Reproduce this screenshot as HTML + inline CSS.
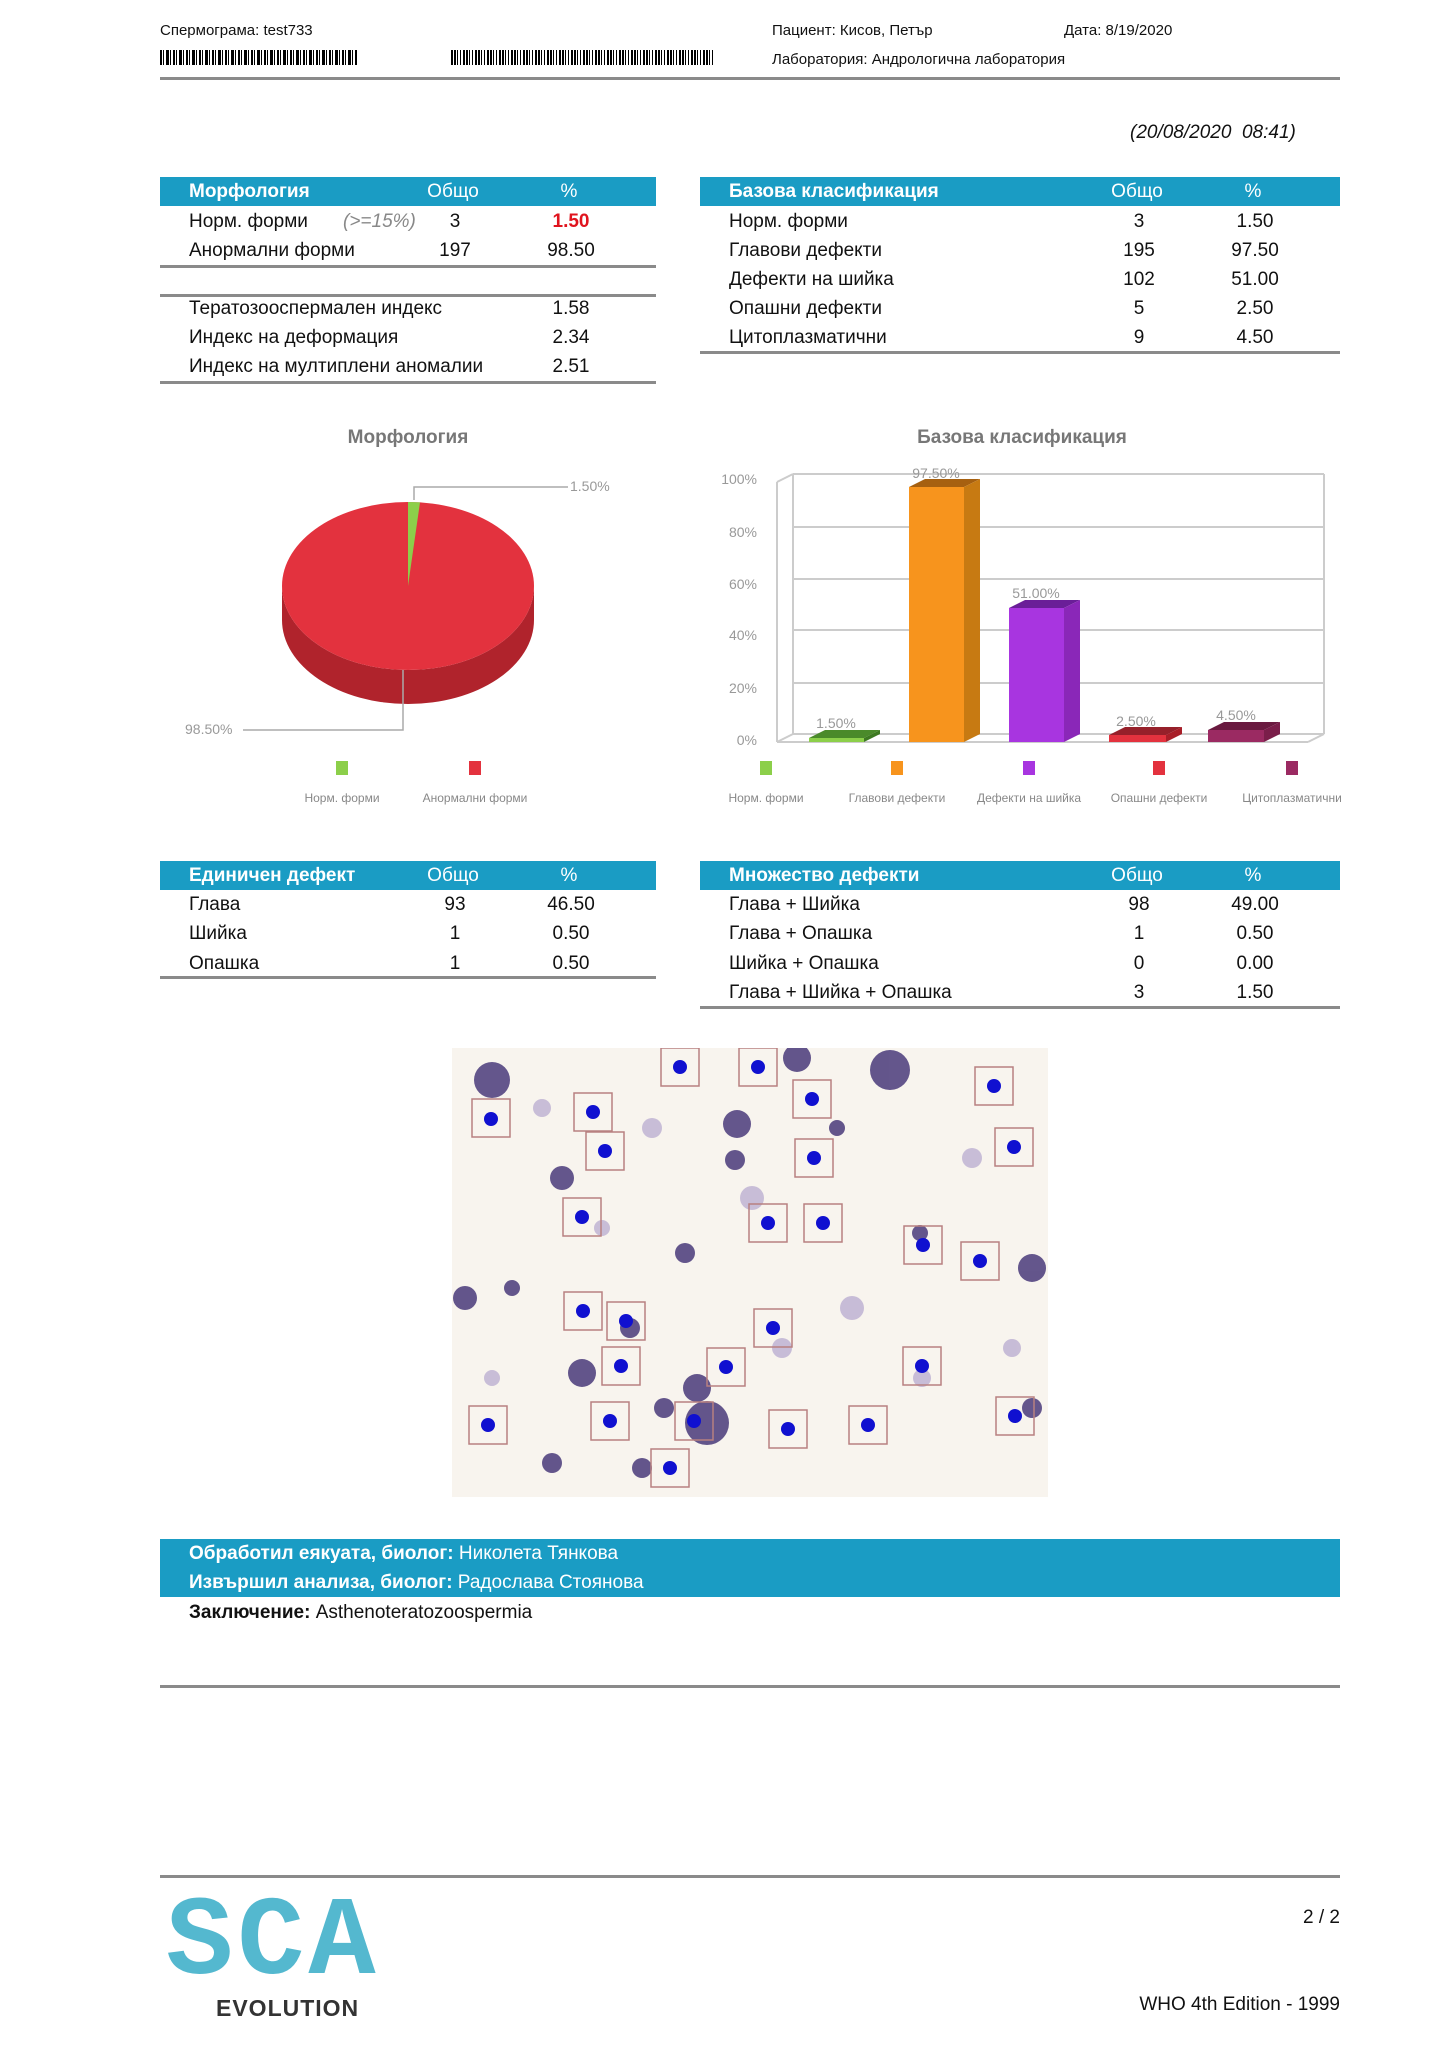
<!DOCTYPE html>
<html><head><meta charset="utf-8">
<style>
body{margin:0;background:#fff;}
#p{position:relative;width:1447px;height:2048px;overflow:hidden;font-family:"Liberation Sans",Arial,sans-serif;color:#111;}
.a{position:absolute;white-space:nowrap;}
.s{font-size:15px;}
.t{font-size:19px;}
.hb{position:absolute;background:#1a9cc4;}
.ln{position:absolute;height:3px;background:#8a8a8a;}
.w{color:#fff;}
.b{font-weight:bold;}
.c{transform:translateX(-50%);}
</style></head><body><div id="p">
<div class="a s" style="left:160px;top:22px">Спермограма: test733</div>
<div class="a s" style="left:772px;top:22px">Пациент: Кисов, Петър</div>
<div class="a s" style="left:1064px;top:22px">Дата: 8/19/2020</div>
<div class="a s" style="left:772px;top:51px">Лаборатория: Андрологична лаборатория</div>
<div class="a" style="left:160px;top:50px;width:197px;height:15px;background:repeating-linear-gradient(90deg,#000 0 2px,#fff 2px 3px,#000 3px 4px,#fff 4px 6px,#000 6px 9px,#fff 9px 10px,#000 10px 11px,#fff 11px 13px)"></div>
<div class="a" style="left:451px;top:50px;width:263px;height:15px;background:repeating-linear-gradient(90deg,#000 0 2px,#fff 2px 3px,#000 3px 5px,#fff 5px 6px,#000 6px 7px,#fff 7px 9px,#000 9px 10px,#fff 10px 12px)"></div>
<div class="ln" style="left:160px;top:77px;width:1180px"></div>
<div class="a" style="left:1130px;top:122px;font-size:19px;font-style:italic">(20/08/2020&nbsp; 08:41)</div>

<!-- table 1 -->
<div class="hb" style="left:160px;top:177px;width:496px;height:29px"></div>
<div class="a t w b" style="left:189px;top:181px">Морфология</div>
<div class="a t w c" style="left:453px;top:181px">Общо</div>
<div class="a t w c" style="left:569px;top:181px">%</div>
<div class="a t" style="left:189px;top:211px">Норм. форми</div>
<div class="a t" style="left:343px;top:211px;font-style:italic;color:#888">(&gt;=15%)</div>
<div class="a t c" style="left:455px;top:211px">3</div>
<div class="a t c b" style="left:571px;top:211px;color:#e0141e">1.50</div>
<div class="a t" style="left:189px;top:240px">Анормални форми</div>
<div class="a t c" style="left:455px;top:240px">197</div>
<div class="a t c" style="left:571px;top:240px">98.50</div>
<div class="ln" style="left:160px;top:265px;width:496px"></div>
<div class="ln" style="left:160px;top:294px;width:496px"></div>
<div class="a t" style="left:189px;top:298px">Тератозооспермален индекс</div>
<div class="a t c" style="left:571px;top:298px">1.58</div>
<div class="a t" style="left:189px;top:327px">Индекс на деформация</div>
<div class="a t c" style="left:571px;top:327px">2.34</div>
<div class="a t" style="left:189px;top:356px">Индекс на мултиплени аномалии</div>
<div class="a t c" style="left:571px;top:356px">2.51</div>
<div class="ln" style="left:160px;top:381px;width:496px"></div>

<!-- table 2 -->
<div class="hb" style="left:700px;top:177px;width:640px;height:29px"></div>
<div class="a t w b" style="left:729px;top:181px">Базова класификация</div>
<div class="a t w c" style="left:1137px;top:181px">Общо</div>
<div class="a t w c" style="left:1253px;top:181px">%</div>
<div class="a t" style="left:729px;top:211px">Норм. форми</div><div class="a t c" style="left:1139px;top:211px">3</div><div class="a t c" style="left:1255px;top:211px">1.50</div>
<div class="a t" style="left:729px;top:240px">Главови дефекти</div><div class="a t c" style="left:1139px;top:240px">195</div><div class="a t c" style="left:1255px;top:240px">97.50</div>
<div class="a t" style="left:729px;top:269px">Дефекти на шийка</div><div class="a t c" style="left:1139px;top:269px">102</div><div class="a t c" style="left:1255px;top:269px">51.00</div>
<div class="a t" style="left:729px;top:298px">Опашни дефекти</div><div class="a t c" style="left:1139px;top:298px">5</div><div class="a t c" style="left:1255px;top:298px">2.50</div>
<div class="a t" style="left:729px;top:327px">Цитоплазматични</div><div class="a t c" style="left:1139px;top:327px">9</div><div class="a t c" style="left:1255px;top:327px">4.50</div>
<div class="ln" style="left:700px;top:351px;width:640px"></div>

<svg class="a" style="left:0;top:0" width="1447" height="1000" font-family="Liberation Sans, Arial, sans-serif">
<text x="408" y="443" text-anchor="middle" font-size="19" font-weight="bold" fill="#777">Морфология</text>
<text x="1022" y="443" text-anchor="middle" font-size="19" font-weight="bold" fill="#777">Базова класификация</text>
<!-- pie -->
<path d="M282,586 A126,84 0 0 0 534,586 L534,620 A126,84 0 0 1 282,620 Z" fill="#b0232c"/>
<ellipse cx="408" cy="586" rx="126" ry="84" fill="#e3323e"/>
<path d="M408,586 L408,502 A126,84 0 0 1 420,502.4 Z" fill="#8ccf4a"/>
<polyline points="414,500 414,487 568,487" fill="none" stroke="#aaa" stroke-width="1.5"/>
<text x="570" y="491" font-size="14" fill="#999">1.50%</text>
<polyline points="403,670 403,730 243,730" fill="none" stroke="#aaa" stroke-width="1.5"/>
<text x="185" y="734" font-size="14" fill="#999">98.50%</text>
<rect x="336" y="761" width="12" height="14" fill="#8ccf4a"/>
<rect x="469" y="761" width="12" height="14" fill="#e3323e"/>
<text x="342" y="802" text-anchor="middle" font-size="12" fill="#888">Норм. форми</text>
<text x="475" y="802" text-anchor="middle" font-size="12" fill="#888">Анормални форми</text>
<!-- bar chart -->
<g stroke="#ccc" stroke-width="2" fill="none">
<line x1="793" y1="474" x2="1324" y2="474"/><line x1="793" y1="527" x2="1324" y2="527"/><line x1="793" y1="579" x2="1324" y2="579"/><line x1="793" y1="630" x2="1324" y2="630"/><line x1="793" y1="683" x2="1324" y2="683"/><line x1="793" y1="734" x2="1324" y2="734"/>
<line x1="793" y1="474" x2="793" y2="734"/><line x1="1324" y1="474" x2="1324" y2="734"/>
<line x1="777" y1="482" x2="777" y2="742"/><line x1="777" y1="742" x2="1308" y2="742"/><line x1="1308" y1="742" x2="1324" y2="734"/><line x1="777" y1="742" x2="793" y2="734"/><line x1="777" y1="482" x2="793" y2="474"/>
</g>
<g font-size="14" fill="#999" text-anchor="end">
<text x="757" y="484">100%</text><text x="757" y="537">80%</text><text x="757" y="589">60%</text><text x="757" y="640">40%</text><text x="757" y="693">20%</text><text x="757" y="745">0%</text>
</g>
<g>
<rect x="809" y="738" width="55" height="4" fill="#8ccf4a"/><polygon points="809,738 825,730 880,730 864,738" fill="#4a8a2a"/><polygon points="864,738 880,730 880,734 864,742" fill="#3e7a22"/>
<rect x="909" y="487" width="55" height="255" fill="#f7941d"/><polygon points="909,487 925,479 980,479 964,487" fill="#a66010"/><polygon points="964,487 980,479 980,734 964,742" fill="#c77a12"/>
<rect x="1009" y="608" width="55" height="134" fill="#a835e0"/><polygon points="1009,608 1025,600 1080,600 1064,608" fill="#6a1e98"/><polygon points="1064,608 1080,600 1080,734 1064,742" fill="#8a27b8"/>
<rect x="1109" y="735" width="57" height="7" fill="#e3323e"/><polygon points="1109,735 1125,727 1182,727 1166,735" fill="#96202a"/><polygon points="1166,735 1182,727 1182,734 1166,742" fill="#a81e28"/>
<rect x="1208" y="730" width="56" height="12" fill="#9b2a62"/><polygon points="1208,730 1224,722 1280,722 1264,730" fill="#6a1a40"/><polygon points="1264,730 1280,722 1280,734 1264,742" fill="#7a1e4a"/>
</g>
<g font-size="14" fill="#999" text-anchor="middle">
<text x="836" y="728">1.50%</text><text x="936" y="478">97.50%</text><text x="1036" y="598">51.00%</text><text x="1136" y="726">2.50%</text><text x="1236" y="720">4.50%</text>
</g>
<rect x="760" y="761" width="12" height="14" fill="#8ccf4a"/><rect x="891" y="761" width="12" height="14" fill="#f7941d"/><rect x="1023" y="761" width="12" height="14" fill="#a835e0"/><rect x="1153" y="761" width="12" height="14" fill="#e3323e"/><rect x="1286" y="761" width="12" height="14" fill="#9b2a62"/>
<g font-size="12" fill="#888" text-anchor="middle">
<text x="766" y="802">Норм. форми</text><text x="897" y="802">Главови дефекти</text><text x="1029" y="802">Дефекти на шийка</text><text x="1159" y="802">Опашни дефекти</text><text x="1292" y="802">Цитоплазматични</text>
</g>
</svg>

<!-- table 3 -->
<div class="hb" style="left:160px;top:861px;width:496px;height:29px"></div>
<div class="a t w b" style="left:189px;top:865px">Единичен дефект</div>
<div class="a t w c" style="left:453px;top:865px">Общо</div>
<div class="a t w c" style="left:569px;top:865px">%</div>
<div class="a t" style="left:189px;top:894px">Глава</div><div class="a t c" style="left:455px;top:894px">93</div><div class="a t c" style="left:571px;top:894px">46.50</div>
<div class="a t" style="left:189px;top:923px">Шийка</div><div class="a t c" style="left:455px;top:923px">1</div><div class="a t c" style="left:571px;top:923px">0.50</div>
<div class="a t" style="left:189px;top:953px">Опашка</div><div class="a t c" style="left:455px;top:953px">1</div><div class="a t c" style="left:571px;top:953px">0.50</div>
<div class="ln" style="left:160px;top:976px;width:496px"></div>
<!-- table 4 -->
<div class="hb" style="left:700px;top:861px;width:640px;height:29px"></div>
<div class="a t w b" style="left:729px;top:865px">Множество дефекти</div>
<div class="a t w c" style="left:1137px;top:865px">Общо</div>
<div class="a t w c" style="left:1253px;top:865px">%</div>
<div class="a t" style="left:729px;top:894px">Глава + Шийка</div><div class="a t c" style="left:1139px;top:894px">98</div><div class="a t c" style="left:1255px;top:894px">49.00</div>
<div class="a t" style="left:729px;top:923px">Глава + Опашка</div><div class="a t c" style="left:1139px;top:923px">1</div><div class="a t c" style="left:1255px;top:923px">0.50</div>
<div class="a t" style="left:729px;top:953px">Шийка + Опашка</div><div class="a t c" style="left:1139px;top:953px">0</div><div class="a t c" style="left:1255px;top:953px">0.00</div>
<div class="a t" style="left:729px;top:982px">Глава + Шийка + Опашка</div><div class="a t c" style="left:1139px;top:982px">3</div><div class="a t c" style="left:1255px;top:982px">1.50</div>
<div class="ln" style="left:700px;top:1006px;width:640px"></div>

<!-- microscopy -->
<svg class="a" style="left:452px;top:1048px" width="596" height="449">
<rect width="596" height="449" fill="#f8f4ee"/>
<g fill="#4a3a7a" opacity="0.85">
<circle cx="438" cy="22" r="20"/><circle cx="110" cy="130" r="12"/><circle cx="40" cy="32" r="18"/><circle cx="60" cy="240" r="8"/><circle cx="233" cy="205" r="10"/><circle cx="285" cy="76" r="14"/><circle cx="283" cy="112" r="10"/><circle cx="13" cy="250" r="12"/><circle cx="345" cy="10" r="14"/><circle cx="255" cy="375" r="22"/><circle cx="245" cy="340" r="14"/><circle cx="212" cy="360" r="10"/><circle cx="580" cy="220" r="14"/><circle cx="190" cy="420" r="10"/><circle cx="385" cy="80" r="8"/><circle cx="130" cy="325" r="14"/><circle cx="178" cy="280" r="10"/><circle cx="468" cy="185" r="8"/><circle cx="580" cy="360" r="10"/><circle cx="100" cy="415" r="10"/>
</g>
<g fill="#a898c8" opacity="0.6">
<circle cx="300" cy="150" r="12"/><circle cx="520" cy="110" r="10"/><circle cx="90" cy="60" r="9"/><circle cx="400" cy="260" r="12"/><circle cx="560" cy="300" r="9"/><circle cx="150" cy="180" r="8"/><circle cx="330" cy="300" r="10"/><circle cx="40" cy="330" r="8"/><circle cx="470" cy="330" r="9"/><circle cx="200" cy="80" r="10"/>
</g>
<g fill="none" stroke="#b88080" stroke-width="1.5">
<rect x="20" y="51" width="38" height="38"/><rect x="122" y="45" width="38" height="38"/><rect x="134" y="84" width="38" height="38"/><rect x="209" y="0" width="38" height="38"/><rect x="287" y="0" width="38" height="38"/><rect x="341" y="32" width="38" height="38"/><rect x="343" y="91" width="38" height="38"/><rect x="523" y="19" width="38" height="38"/><rect x="543" y="80" width="38" height="38"/>
<rect x="111" y="150" width="38" height="38"/><rect x="297" y="156" width="38" height="38"/><rect x="352" y="156" width="38" height="38"/><rect x="452" y="178" width="38" height="38"/><rect x="509" y="194" width="38" height="38"/>
<rect x="112" y="244" width="38" height="38"/><rect x="155" y="254" width="38" height="38"/><rect x="302" y="261" width="38" height="38"/><rect x="150" y="299" width="38" height="38"/><rect x="255" y="300" width="38" height="38"/><rect x="451" y="299" width="38" height="38"/>
<rect x="17" y="358" width="38" height="38"/><rect x="139" y="354" width="38" height="38"/><rect x="223" y="354" width="38" height="38"/><rect x="317" y="362" width="38" height="38"/><rect x="397" y="358" width="38" height="38"/><rect x="544" y="349" width="38" height="38"/><rect x="199" y="401" width="38" height="38"/>
</g>
<g fill="#1010d0">
<circle cx="39" cy="71" r="7"/><circle cx="141" cy="64" r="7"/><circle cx="153" cy="103" r="7"/><circle cx="228" cy="19" r="7"/><circle cx="306" cy="19" r="7"/><circle cx="360" cy="51" r="7"/><circle cx="362" cy="110" r="7"/><circle cx="542" cy="38" r="7"/><circle cx="562" cy="99" r="7"/><circle cx="130" cy="169" r="7"/><circle cx="316" cy="175" r="7"/><circle cx="371" cy="175" r="7"/><circle cx="471" cy="197" r="7"/><circle cx="528" cy="213" r="7"/><circle cx="131" cy="263" r="7"/><circle cx="174" cy="273" r="7"/><circle cx="321" cy="280" r="7"/><circle cx="169" cy="318" r="7"/><circle cx="274" cy="319" r="7"/><circle cx="470" cy="318" r="7"/><circle cx="36" cy="377" r="7"/><circle cx="158" cy="373" r="7"/><circle cx="242" cy="373" r="7"/><circle cx="336" cy="381" r="7"/><circle cx="416" cy="377" r="7"/><circle cx="563" cy="368" r="7"/><circle cx="218" cy="420" r="7"/>
</g>
</svg>

<!-- bottom -->
<div class="hb" style="left:160px;top:1539px;width:1180px;height:58px"></div>
<div class="a t w" style="left:189px;top:1543px"><b>Обработил еякуата, биолог:</b> Николета Тянкова</div>
<div class="a t w" style="left:189px;top:1572px"><b>Извършил анализа, биолог:</b> Радослава Стоянова</div>
<div class="a t" style="left:189px;top:1602px"><b>Заключение:</b> Asthenoteratozoospermia</div>
<div class="ln" style="left:160px;top:1685px;width:1180px"></div>
<div class="ln" style="left:160px;top:1875px;width:1180px"></div>
<div class="a" style="left:166px;top:1880px;font-size:112px;font-weight:bold;letter-spacing:4px;font-family:'Liberation Mono',monospace;color:#2aa7c4;opacity:0.8">SCA</div>
<div class="a" style="left:216px;top:1995px;font-size:23px;font-weight:bold;color:#333;letter-spacing:1px">EVOLUTION</div>
<div class="a t" style="right:107px;top:1907px">2 / 2</div>
<div class="a t" style="right:107px;top:1994px">WHO 4th Edition - 1999</div>
</div></body></html>
